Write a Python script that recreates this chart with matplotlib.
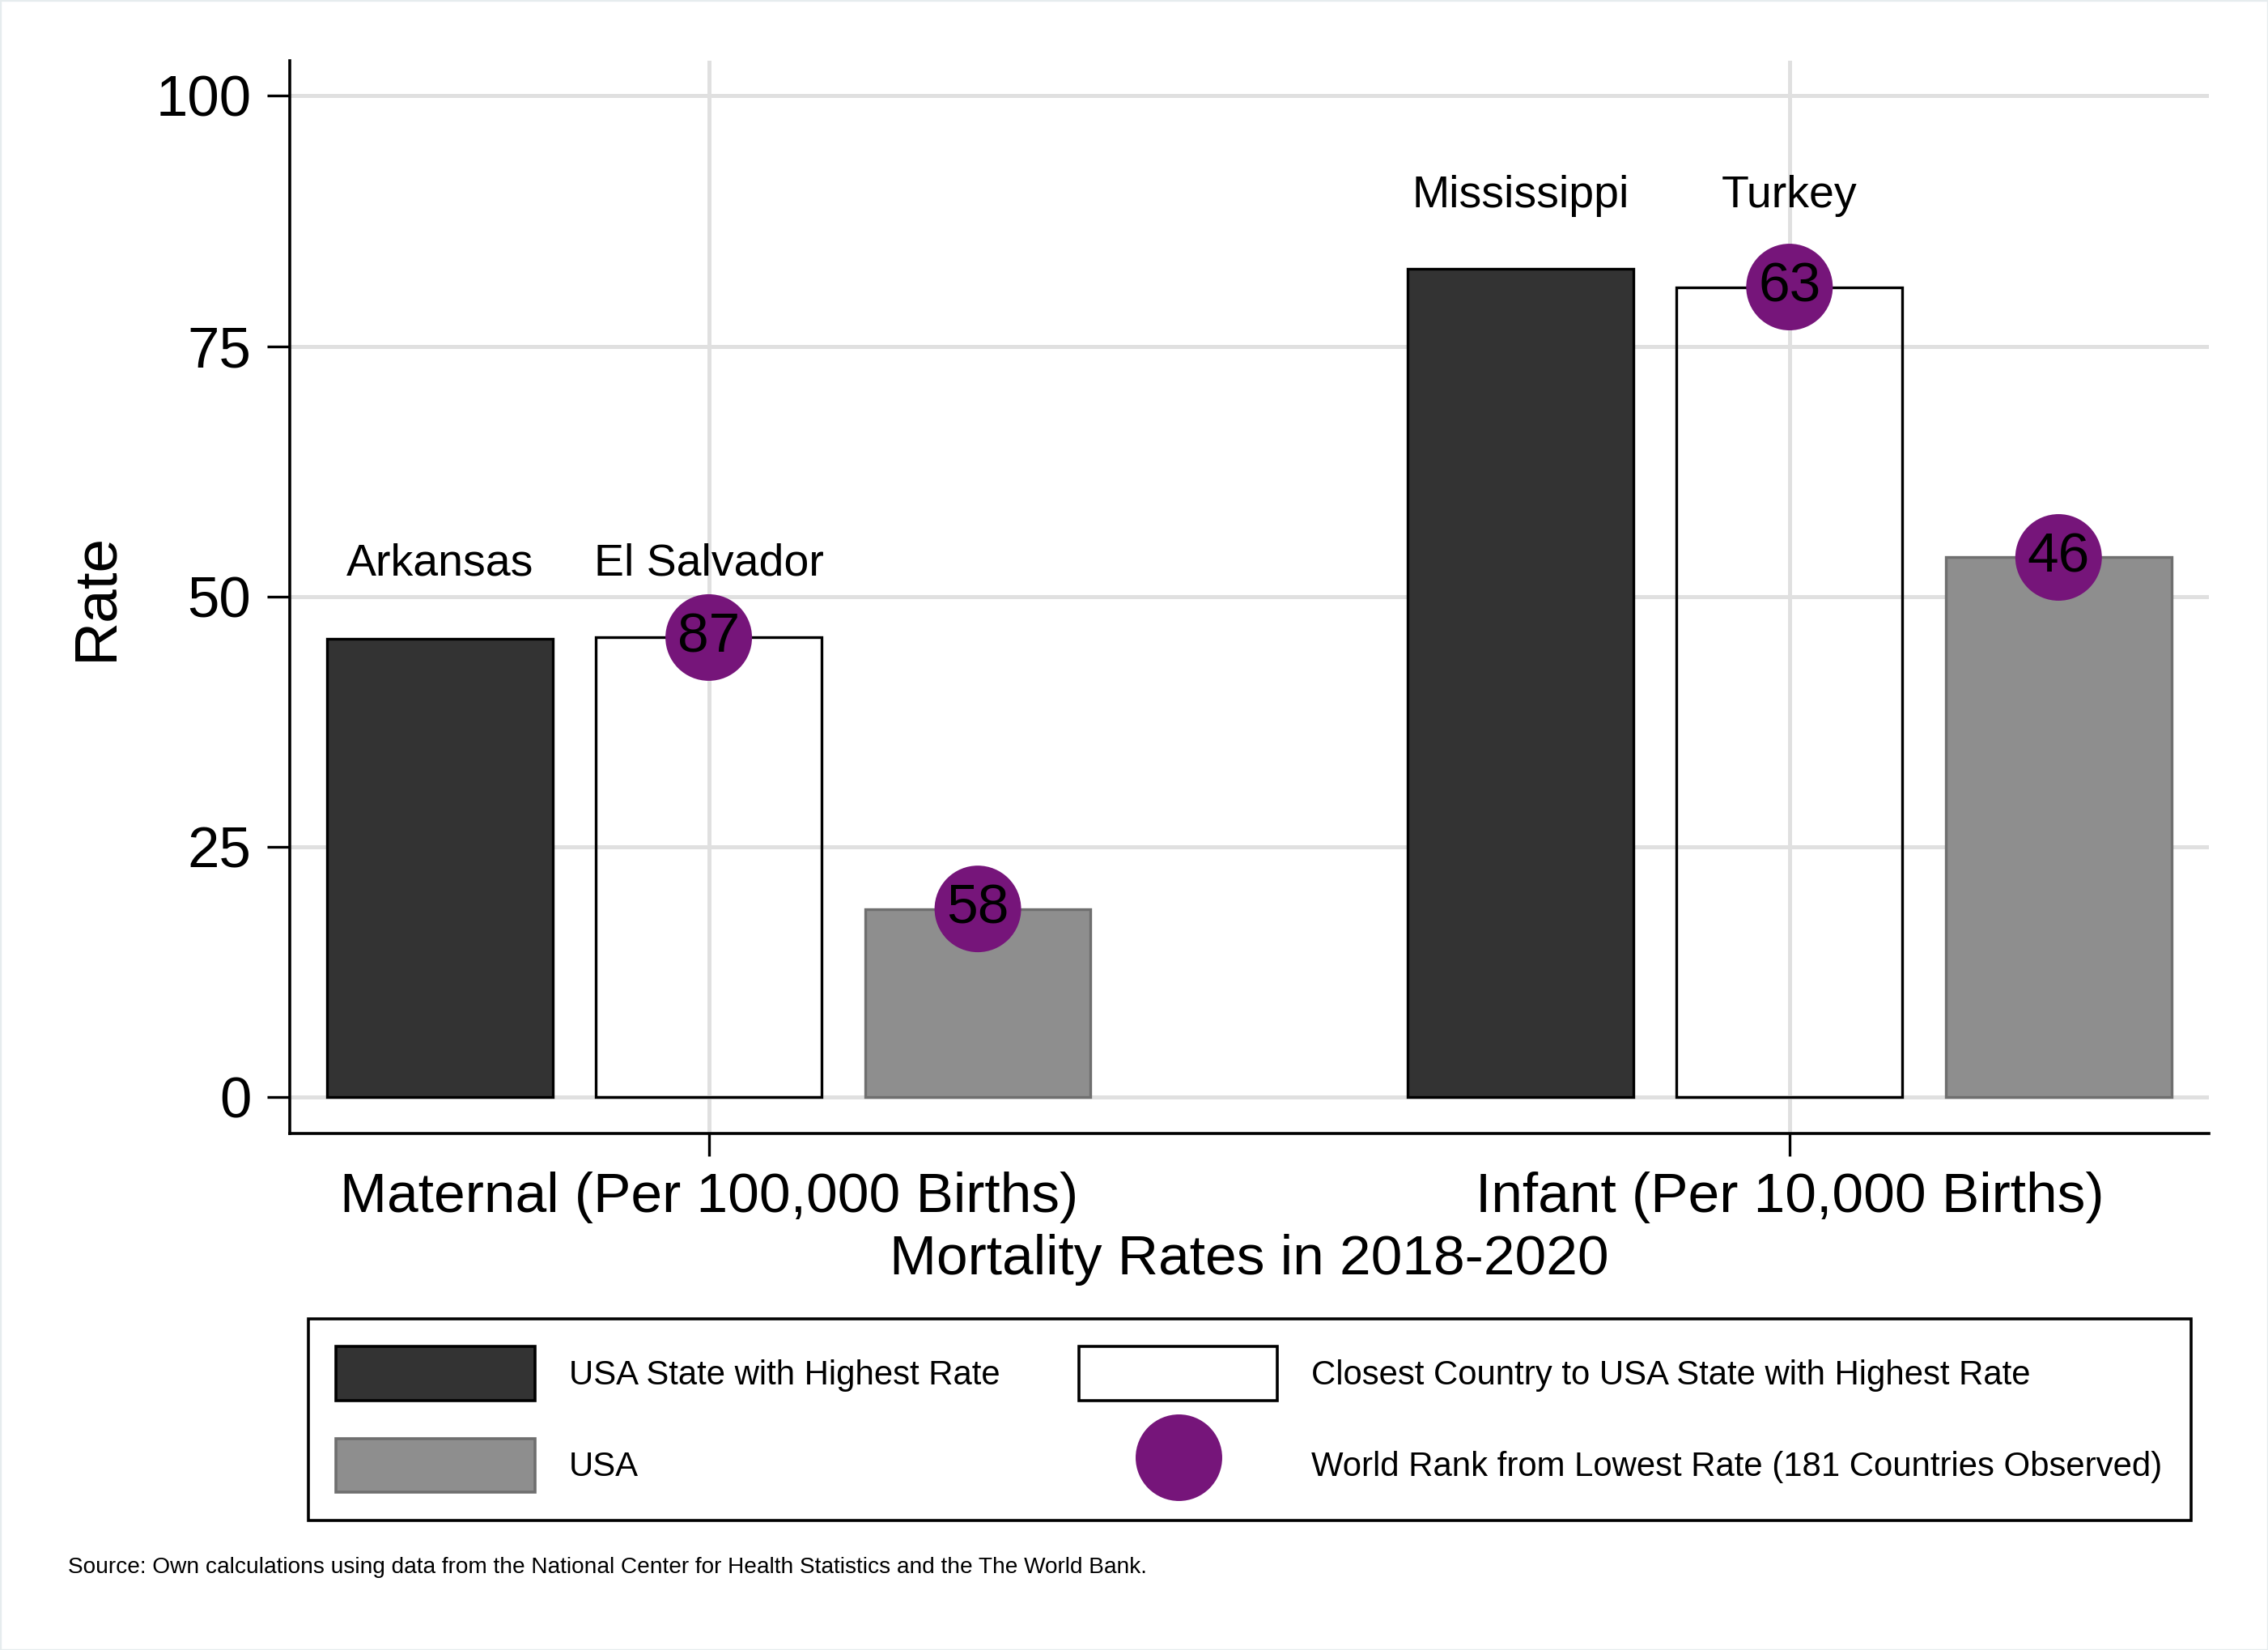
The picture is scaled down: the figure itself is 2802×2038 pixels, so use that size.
import numpy as np
import matplotlib
matplotlib.use('Agg')
import matplotlib.pyplot as plt
from matplotlib.patches import Patch, Rectangle
from matplotlib.lines import Line2D

plt.rcParams['font.family'] = ['Liberation Sans', 'DejaVu Sans']

# Daten
groups = ["Maternal (Per 100,000 Births)", "Infant (Per 10,000 Births)"]
state_names = ["Arkansas", "Mississippi"]
country_names = ["El Salvador", "Turkey"]
state_rate = [45.8, 82.7]
country_rate = [45.9, 80.9]
usa_rate = [18.8, 53.9]
country_rank = [87, 63]
usa_rank = [58, 46]

legend_labels = ["USA State with Highest Rate", "USA",
                 "Closest Country to USA State with Highest Rate",
                 "World Rank from Lowest Rate (181 Countries Observed)"]
source_note = ("Source: Own calculations using data from the National Center "
               "for Health Statistics and the The World Bank.")

dark = '#333333'
grey = '#8e8e8e'
grey_edge = '#6f6f6f'
purple = '#76157a'
gridc = '#e0e0e0'

fig = plt.figure(figsize=(14.01, 10.19), dpi=200)
fig.patches.append(Rectangle((0, 0), 1, 1, transform=fig.transFigure,
                             fill=False, edgecolor='#e6ecee', linewidth=1.2))
ax = fig.add_axes([0.1276, 0.3132, 0.8463, 0.65])

x = np.arange(len(groups))
step = 0.249
w = 0.2088

ax.bar(x - step, state_rate, w, color=dark, edgecolor='black', linewidth=1.2, zorder=3)
ax.bar(x, country_rate, w, facecolor='none', edgecolor='black', linewidth=1.2, zorder=3)
ax.bar(x + step, usa_rate, w, color=grey, edgecolor=grey_edge, linewidth=1.2, zorder=3)

# Rang-Kreise
ax.scatter(x, country_rate, s=38.5**2, color=purple, zorder=4, edgecolors='none')
ax.scatter(x + step, usa_rate, s=38.5**2, color=purple, zorder=4, edgecolors='none')
for i in range(len(groups)):
    ax.text(x[i], country_rate[i], str(country_rank[i]), ha='center', va='center',
            fontsize=25, zorder=5)
    ax.text(x[i] + step, usa_rate[i], str(usa_rank[i]), ha='center', va='center',
            fontsize=25, zorder=5)
    top = max(state_rate[i], country_rate[i]) + 6.2
    ax.text(x[i] - step, top, state_names[i], ha='center', va='baseline', fontsize=20)
    ax.text(x[i], top, country_names[i], ha='center', va='baseline', fontsize=20)

ax.set_xlim(-0.388, 1.388)
ax.set_ylim(-3.6, 103.5)
ax.set_yticks([0, 25, 50, 75, 100])
ax.set_xticks(x)
ax.set_xticklabels(groups)
ax.tick_params(axis='both', labelsize=25, length=10, width=1.2, direction='out')
ax.tick_params(axis='x', pad=7)
ax.tick_params(axis='y', pad=7, labelsize=25.5)
ax.grid(True, color=gridc, linewidth=1.8, zorder=0)
ax.set_axisbelow(True)
for s in ['top', 'right']:
    ax.spines[s].set_visible(False)
for s in ['left', 'bottom']:
    ax.spines[s].set_linewidth(1.3)

ax.set_ylabel("Rate", fontsize=27)
ax.yaxis.set_label_coords(-0.086, 0.5)
ax.set_xlabel("Mortality Rates in 2018-2020", fontsize=25, labelpad=4.8)

handles = [Patch(facecolor=dark, edgecolor='black', linewidth=1.3),
           Patch(facecolor=grey, edgecolor=grey_edge, linewidth=1.3),
           Patch(facecolor='white', edgecolor='black', linewidth=1.3),
           Line2D([], [], marker='o', linestyle='none', markersize=38.5,
                  markerfacecolor=purple, markeredgecolor='none')]
leg = fig.legend(handles, legend_labels, ncol=2, loc='upper left',
                 bbox_to_anchor=(213 / 1568, 1 - 911 / 1140), fontsize=15.1,
                 frameon=True, fancybox=False, shadow=False, framealpha=1,
                 handlelength=5.85, handleheight=2.05, handletextpad=1.0,
                 columnspacing=2.33, labelspacing=1.12, borderpad=0.83,
                 borderaxespad=0)
leg.get_frame().set_edgecolor('black')
leg.get_frame().set_linewidth(1.3)

fig.text(47 / 1568, 1 - 1083 / 1140, source_note, fontsize=10.1, va='center', ha='left')

fig.savefig("out.png", dpi=200, facecolor='white')
